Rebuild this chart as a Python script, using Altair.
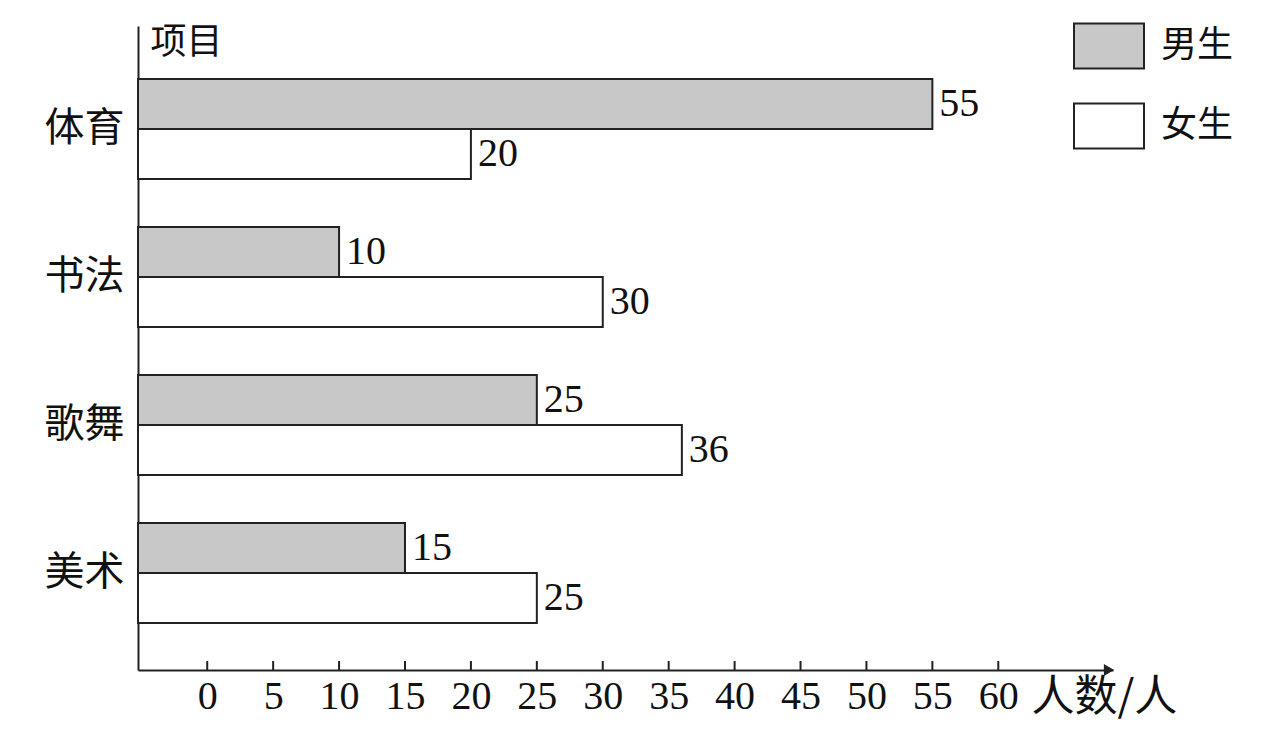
import altair as alt
import pandas as pd

categories = ["体育", "书法", "歌舞", "美术"]
genders = ["男生", "女生"]
male = [55, 10, 25, 15]
female = [20, 30, 36, 25]
tick_values = [0, 5, 10, 15, 20, 25, 30, 35, 40, 45, 50, 55, 60]

rows = []
for c, m, f in zip(categories, male, female):
    rows.append({"项目": c, "性别": genders[0], "人数": m})
    rows.append({"项目": c, "性别": genders[1], "人数": f})
df = pd.DataFrame(rows)
ticks_df = pd.DataFrame({"t": tick_values})

W, H = 975, 644
CJK = "Noto Sans CJK SC"
SERIF = "Liberation Serif"
XMIN, XMAX = -5.25, 68.7

xscale = alt.Scale(domain=[XMIN, XMAX], nice=False, zero=False)
yscale = alt.Scale(domain=categories, paddingInner=0.324, paddingOuter=0.338, align=0.53)

x_enc = alt.X("人数:Q", scale=xscale,
              axis=alt.Axis(values=tick_values, ticks=False, grid=False,
                            domainColor="#222", domainWidth=2,
                            labelFont=SERIF, labelFontSize=40, labelColor="#111",
                            labelPadding=6, labelFlush=False,
                            title="人数/人", titleFont=CJK, titleFontSize=43,
                            titleFontWeight="normal", titleColor="#111",
                            titleX=893, titleY=27, titleAlign="left",
                            titleBaseline="middle", titleAnchor="start"))
y_enc = alt.Y("项目:N", scale=yscale,
              axis=alt.Axis(ticks=False, grid=False, domainColor="#222", domainWidth=2,
                            labelFont=CJK, labelFontSize=40, labelColor="#111",
                            labelPadding=14,
                            title="项目", titleFont=CJK, titleFontSize=36,
                            titleFontWeight="normal", titleColor="#111",
                            titleAngle=0, titleX=12, titleY=16, titleAlign="left",
                            titleBaseline="middle"))
yoff = alt.YOffset("性别:N", scale=alt.Scale(domain=genders, paddingInner=0, paddingOuter=0))

bars = alt.Chart(df).mark_bar(stroke="#222", strokeWidth=2).encode(
    x=x_enc,
    x2=alt.datum(XMIN),
    y=y_enc,
    yOffset=yoff,
    fill=alt.Fill("性别:N", scale=alt.Scale(domain=genders, range=["#c8c8c8", "#ffffff"]),
                  legend=alt.Legend(title=None, orient="none", legendX=935, legendY=-16,
                                    symbolType="M-1,-0.64L1,-0.64L1,0.64L-1,0.64Z",
                                    symbolSize=4900, symbolStrokeColor="#222",
                                    symbolStrokeWidth=2, labelFont=CJK, labelFontSize=36,
                                    labelColor="#111", labelOffset=16, rowPadding=17)),
)

labels = alt.Chart(df).mark_text(align="left", baseline="middle", dx=7,
                                 font=SERIF, fontSize=40, color="#111").encode(
    x=alt.X("人数:Q", scale=xscale),
    y=alt.Y("项目:N", scale=yscale),
    yOffset=yoff,
    text="人数:Q",
)

ticks = alt.Chart(ticks_df).mark_rule(color="#222", strokeWidth=2).encode(
    x=alt.X("t:Q", scale=xscale),
    y=alt.value(H - 9),
    y2=alt.value(H),
)

arrow = alt.Chart(ticks_df.head(1)).mark_point(shape="triangle-right", filled=True,
                                                color="#222", size=140, opacity=1).encode(
    x=alt.value(W - 4),
    y=alt.value(H),
)

chart = alt.layer(bars, labels, ticks, arrow).properties(
    width=W, height=H,
    background="white",
    autosize=alt.AutoSizeParams(type="none"),
    padding={"left": 130, "top": 18, "right": 160, "bottom": 55},
).configure_view(strokeWidth=0, stroke="transparent")

chart.save("out.html", embed_options={"renderer": "svg", "actions": False})
